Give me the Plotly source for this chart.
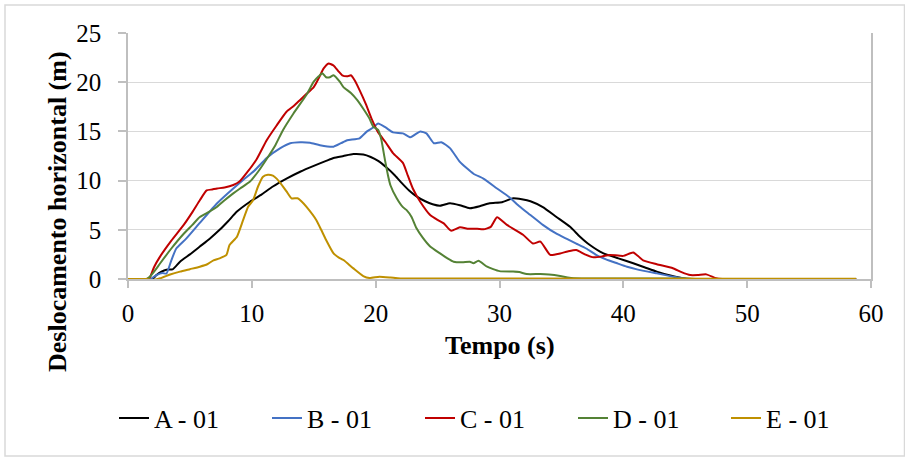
import plotly.graph_objects as go

# Horizontal displacement time histories (time in s, displacement in m)
t_a = [0, 1.5, 1.9, 2.3, 2.7, 3.1, 3.6, 4.2, 5.0, 5.8, 6.6, 7.4, 8.1, 8.8, 9.85, 10.8, 11.7,
       12.8, 13.9, 15.0, 16.0, 16.6, 17.4, 18.2, 19.0, 19.6, 20.2, 20.9, 21.5, 22.0, 22.7,
       23.3, 24.0, 24.6, 25.2, 26.0, 26.8, 27.6, 28.4, 29.2, 30.2, 31.1, 31.8, 32.5, 33.5,
       34.6, 35.7, 36.5, 37.3, 38.4, 39.6, 40.8, 41.7, 42.7, 43.8, 44.8, 45.5, 58.8]
a_01 = [0, 0, -0.1, 0.4, 0.75, 0.95, 0.98, 1.76, 2.5, 3.3, 4.1, 5.0, 5.9, 6.85, 7.85, 8.6, 9.4,
        10.2, 10.9, 11.5, 12.0, 12.3, 12.5, 12.7, 12.65, 12.4, 12.0, 11.3, 10.6, 9.9, 9.0,
        8.4, 7.9, 7.6, 7.45, 7.7, 7.5, 7.2, 7.4, 7.7, 7.8, 8.2, 8.1, 7.9, 7.3,
        6.3, 5.3, 4.3, 3.45, 2.6, 2.1, 1.6, 1.2, 0.75, 0.35, 0.07, 0, 0]

t_b = [0, 1.8, 2.3, 2.8, 3.1, 3.5, 3.9, 4.7, 5.8, 7.2, 8.5, 9.3, 10.2, 11.2, 12.3, 13.1, 13.9,
       14.7, 15.5, 16.6, 17.2, 17.7, 18.7, 19.3, 19.8, 20.2, 20.8, 21.4, 22.2, 22.8, 23.2,
       23.6, 24.1, 24.7, 25.3, 26.0, 26.8, 27.9, 28.7, 29.8, 30.8, 31.6, 32.5, 33.5, 34.6,
       35.4, 36.2, 37.0, 37.8, 38.6, 39.5, 40.3, 41.1, 42.7, 44.3, 45.2, 58.8]
b_01 = [0, 0, 0.4, 0.6, 0.55, 1.9, 3.1, 4.1, 5.7, 7.7, 9.2, 10.06, 11.0, 12.3, 13.3, 13.8, 13.9,
        13.85, 13.6, 13.45, 13.8, 14.1, 14.3, 15.0, 15.4, 15.8, 15.4, 14.9, 14.8, 14.4, 14.7,
        15.0, 14.8, 13.8, 13.9, 13.3, 11.9, 10.7, 10.2, 9.2, 8.3, 7.4, 6.5, 5.5, 4.6,
        4.1, 3.6, 3.1, 2.45, 2.0, 1.6, 1.25, 0.98, 0.57, 0.17, 0, 0]

t_c = [0, 1.5, 1.78, 2.1, 2.6, 3.5, 4.5, 5.2, 5.8, 6.35, 6.8, 7.2, 7.8, 8.5, 9.0, 9.6, 10.4,
       11.2, 12.0, 12.8, 13.4, 13.9, 14.4, 15.0, 15.4, 15.8, 16.2, 16.6, 17.0, 17.3, 17.7,
       18.0, 18.3, 18.7, 19.2, 19.7, 20.2, 20.8, 21.4, 22.2, 22.6, 23.0, 23.6, 24.4, 25.0,
       25.5, 26.1, 26.8, 27.5, 28.2, 28.7, 29.3, 29.8, 30.6, 31.9, 32.7, 33.3, 34.1, 34.9,
       35.5, 36.2, 36.9, 37.6, 38.3, 38.9, 40.0, 40.8, 41.6, 42.7, 44.0, 44.7, 45.4, 46.0,
       46.7, 47.5, 48.0, 58.8]
c_01 = [0, 0, 0.2, 1.2, 2.3, 3.9, 5.5, 6.8, 8.0, 9.0, 9.1, 9.2, 9.3, 9.55, 9.9, 10.8, 12.2,
        14.1, 15.6, 17.0, 17.6, 18.2, 18.8, 19.5, 20.4, 21.4, 21.9, 21.7, 21.1, 20.7, 20.6,
        20.7, 20.2, 19.2, 17.8, 16.2, 14.9, 13.9, 12.8, 11.8, 10.5, 9.2, 7.85, 6.5, 6.0,
        5.65, 4.9, 5.25, 5.1, 5.1, 5.05, 5.3, 6.27, 5.5, 4.5, 3.6, 3.8, 2.45, 2.6,
        2.8, 2.95, 2.5, 2.2, 2.3, 2.45, 2.35, 2.7, 1.9, 1.5, 1.1, 0.7, 0.4, 0.4,
        0.47, 0.07, 0, 0]

t_d = [0, 1.5, 1.78, 2.2, 2.6, 3.5, 4.5, 5.2, 5.8, 6.5, 7.2, 7.8, 8.5, 9.05, 9.85, 10.5, 11.2,
       11.9, 12.5, 13.35, 14.4, 15.0, 15.4, 15.7, 16.0, 16.3, 16.6, 17.1, 17.4, 18.0, 18.5,
       19.0, 19.5, 19.8, 20.2, 20.45, 20.75, 21.0, 21.2, 21.7, 22.2, 22.5, 22.9, 23.3, 23.8,
       24.4, 25.2, 25.8, 26.3, 27.0, 27.6, 27.9, 28.3, 29.0, 30.0, 31.1, 31.6, 32.2, 33.3,
       34.0, 34.9, 35.5, 36.0, 37.0, 45.0, 46.0, 58.8]
d_01 = [0, 0, 0.25, 0.9, 1.6, 3.1, 4.6, 5.5, 6.3, 6.8, 7.35, 8.0, 8.7, 9.2, 9.9, 10.9, 12.2,
        13.6, 15.1, 16.8, 18.7, 20.05, 20.6, 20.9, 20.5, 20.5, 20.7, 20.05, 19.5, 18.9, 18.2,
        17.3, 16.3, 15.5, 15.15, 14.2, 12.1, 10.5, 9.5, 8.2, 7.3, 7.0, 6.3, 5.15, 4.2,
        3.3, 2.6, 2.1, 1.76, 1.7, 1.76, 1.6, 1.86, 1.25, 0.8, 0.75, 0.7, 0.5, 0.5,
        0.45, 0.3, 0.15, 0.07, 0.05, 0.05, 0, 0]

t_e = [0, 1.5, 2.0, 2.6, 3.4, 4.2, 5.0, 5.8, 6.4, 6.9, 7.4, 7.95, 8.2, 8.8, 9.3, 9.7, 10.1,
       10.5, 10.9, 11.3, 11.7, 12.0, 12.4, 12.8, 13.2, 13.7, 14.0, 14.4, 15.2, 15.6, 16.0,
       16.6, 17.0, 17.4, 18.2, 19.0, 19.5, 20.3, 21.2, 22.0, 58.8]
e_01 = [0, 0, -0.1, 0.07, 0.45, 0.75, 1.0, 1.25, 1.5, 1.9, 2.1, 2.45, 3.45, 4.3, 6.0, 7.35, 8.0,
        9.4, 10.4, 10.6, 10.5, 10.2, 9.6, 8.9, 8.2, 8.2, 7.9, 7.35, 6.0, 5.0, 3.96,
        2.6, 2.2, 1.93, 1.08, 0.3, 0.1, 0.23, 0.15, 0.05, 0.02]

series_names = ["A - 01", "B - 01", "C - 01", "D - 01", "E - 01"]
series_colors = ["#000000", "#4472C4", "#C00000", "#548235", "#BF9000"]
series_t = [t_a, t_b, t_c, t_d, t_e]
series_v = [a_01, b_01, c_01, d_01, e_01]

x_ticks = [0, 10, 20, 30, 40, 50, 60]
y_ticks = [0, 5, 10, 15, 20, 25]

FONT = "Liberation Serif, Times New Roman, serif"
AXIS_GRAY = "#BFBFBF"
GRID_GRAY = "#D9D9D9"

fig = go.Figure()
for name, color, tt, vv in zip(series_names, series_colors, series_t, series_v):
    fig.add_trace(go.Scatter(
        x=tt, y=vv, mode="lines", name=name,
        line=dict(color=color, width=2, shape="spline", smoothing=0.5),
    ))

# plot-area geometry in pixels, used to place paper-referenced items
L, R, T, B = 128, 34, 33, 178
W, H = 905, 457
pw, ph = W - L - R, H - T - B


def px_x(p):
    return (p - L) / pw


def px_y(p):
    return (H - B - p) / ph


fig.update_layout(
    width=W, height=H,
    margin=dict(l=L, r=R, t=T, b=B),
    paper_bgcolor="white", plot_bgcolor="white",
    font=dict(family=FONT, size=25, color="#000000"),
    showlegend=True,
    legend=dict(
        orientation="h", x=px_x(114), y=px_y(418),
        xanchor="left", yanchor="middle",
        font=dict(family=FONT, size=26, color="#000000"),
        entrywidthmode="pixels", entrywidth=108,
        bgcolor="rgba(0,0,0,0)", itemwidth=30,
    ),
    xaxis=dict(
        range=[0, 60], tickvals=x_ticks, showgrid=False, zeroline=False,
        showline=True, linecolor=AXIS_GRAY, linewidth=1.5,
        ticks="outside", ticklen=7, tickcolor=AXIS_GRAY, tickwidth=1.5,
        tickfont=dict(family=FONT, size=25), ticklabelstandoff=4,
    ),
    yaxis=dict(
        range=[0, 25], tickvals=y_ticks, showgrid=True, gridcolor=GRID_GRAY,
        gridwidth=1.2, zeroline=False,
        showline=True, linecolor=AXIS_GRAY, linewidth=1.5, mirror=True,
        ticks="outside", ticklen=8, tickcolor=AXIS_GRAY, tickwidth=1.5,
        tickfont=dict(family=FONT, size=25), ticklabelstandoff=12,
    ),
    annotations=[
        dict(text="<b>Tempo (s)</b>", xref="paper", yref="paper",
             x=0.5, y=px_y(345), xanchor="center", yanchor="middle",
             showarrow=False, font=dict(family=FONT, size=26)),
        dict(text="<b>Deslocamento horizontal (m)</b>", xref="paper", yref="paper",
             x=px_x(57), y=px_y(212), xanchor="center", yanchor="middle",
             textangle=-90, showarrow=False, font=dict(family=FONT, size=26)),
    ],
    shapes=[
        dict(type="rect", xref="paper", yref="paper",
             x0=px_x(5), x1=px_x(904.5), y0=px_y(456), y1=px_y(5),
             line=dict(color=GRID_GRAY, width=1.5), layer="below"),
    ],
)

fig.write_html("out.html")
